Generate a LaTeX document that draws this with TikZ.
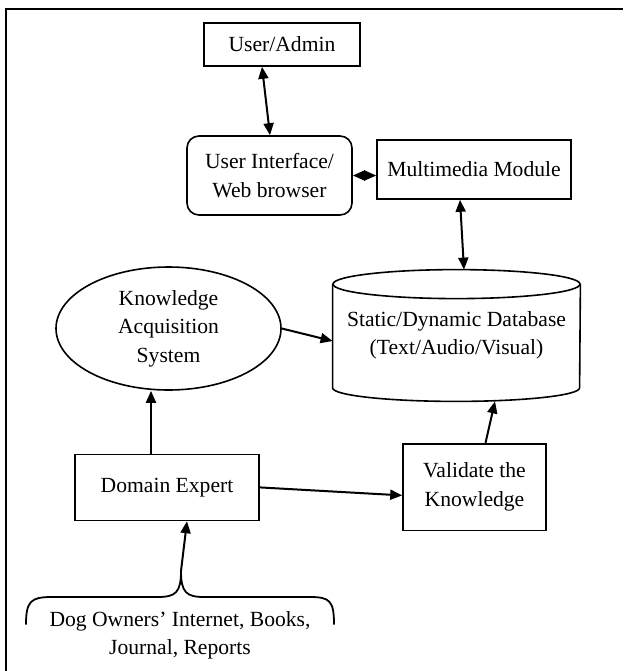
\documentclass[tikz,border=0pt]{standalone}
\usepackage{fontspec}
\setmainfont{Liberation Serif}
\usepackage{tikz}
\usetikzlibrary{arrows.meta,positioning,shapes.geometric}

\begin{document}
\begin{tikzpicture}[
  x=0.5pt, y=-0.5pt,
  font=\fontsize{10.8}{14.25}\selectfont,
  >={Triangle[length=6pt,width=5pt]},
  box/.style={draw, line width=0.8pt, align=center, inner sep=2pt},
  rbox/.style={box, rounded corners=6pt},
  oval/.style={draw, ellipse, line width=0.8pt, align=center, inner sep=1pt},
  dbase/.style={align=center, inner sep=1pt},
  arr/.style={->, line width=1pt},
  darr/.style={<->, line width=1pt},
]
  \useasboundingbox (0,0) rectangle (623,671);
  %% Frame (top and left edges only)
  \draw[line width=1.1pt] (6,671) -- (6,9) -- (623,9);

  %% Top part
  \node[box, minimum width=78pt, minimum height=21.5pt] (user) at (282,44.5) {User/Admin};
  \node[rbox, minimum width=82.5pt, minimum height=39.5pt] (ui) at (269.5,175.5)
    {User Interface/\\Web browser};
  \node[box, minimum width=97pt, minimum height=29.5pt] (mm) at (474,169.5)
    {Multimedia Module};

  %% Middle part
  \node[oval, minimum width=112.5pt, minimum height=61.5pt] (ka) at (168.5,328.5)
    {Knowledge\\Acquisition\\System};
  \node[dbase, minimum width=123.5pt, minimum height=65.5pt] (db) at (456.5,335.5)
    {Static/Dynamic Database\\(Text/Audio/Visual)};
  %% cylinder outline round the database node
  \draw[line width=0.8pt] ([yshift=-7.25pt]db.north) ellipse [x radius=61.75pt, y radius=7.25pt];
  \draw[line width=0.8pt] ([yshift=-7.25pt]db.north west) -- ([yshift=6.75pt]db.south west)
    arc[start angle=180, end angle=360, x radius=61.75pt, y radius=6.75pt]
    -- ([yshift=-7.25pt]db.north east);

  %% Bottom part
  \node[box, minimum width=92pt, minimum height=33pt] (de) at (167,487.4) {Domain Expert};
  \node[box, minimum width=71.5pt, minimum height=43.3pt] (val) at (474.5,487)
    {Validate the\\Knowledge};
  \node[align=center, inner sep=0pt] (src) at (180,635.4)
    {Dog Owners' Internet, Books,\\Journal, Reports};
  \coordinate (peak) at (181,571);

  %% Brace over the sources
  \draw[line width=0.9pt] (26,624.5) .. controls (26,601) and (31,597) .. (52,597)
    -- (158,597) .. controls (176,597) and (181,592) .. (peak)
    .. controls (181,592) and (186,597) .. (204,597)
    -- (310,597) .. controls (330,597) and (334,601) .. (334,624.5);

  %% Arrows
  \draw[darr] ([xshift=-10pt]user.south) -- ([xshift=0.25pt]ui.north);
  \draw[darr] (ui.east) -- (ui.east -| mm.west);
  \draw[darr] ([xshift=-7pt]mm.south) -- ([xshift=3.75pt]db.north);
  \draw[arr] (ka.east) -- ([yshift=-2.75pt]db.west);
  \draw[arr] ([xshift=-8pt]de.north) -- ([xshift=-8pt]de.north |- ka.south);
  \draw[arr] (de.east) -- ([yshift=-4.2pt]val.west);
  \draw[arr] ([xshift=5.5pt]val.north) -- ([xshift=19.25pt]db.south);
  \draw[arr] (peak) -- ([xshift=10pt]de.south);
\end{tikzpicture}
\end{document}
